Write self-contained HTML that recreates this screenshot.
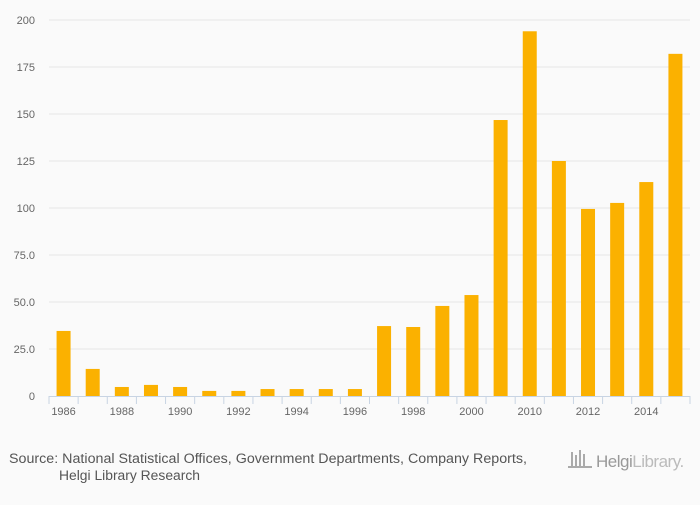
<!DOCTYPE html>
<html><head><meta charset="utf-8"><style>
html,body{margin:0;padding:0;background:#fafafa;}
svg text{font-family:"Liberation Sans",sans-serif;}
</style></head><body>
<svg width="700" height="500" xmlns="http://www.w3.org/2000/svg">
<rect width="700" height="500" fill="#fafafa"/>
<g id="grid"></g>
<g id="bars"></g>
<g id="xaxis"></g>
<text x="9" y="463" font-size="13.5" fill="#555" textLength="518" lengthAdjust="spacingAndGlyphs">Source: National Statistical Offices, Government Departments, Company Reports,</text>
<text x="59" y="480" font-size="13.5" fill="#555" textLength="141" lengthAdjust="spacingAndGlyphs">Helgi Library Research</text>
<g>
<g fill="#aaa"><rect x="571" y="452" width="2" height="14"/><rect x="575" y="455" width="2" height="11"/><rect x="579" y="450" width="2" height="16"/><rect x="583" y="454" width="2" height="12"/><rect x="568" y="466" width="24" height="2"/></g>
<text x="596" y="467" font-size="17" fill="#999" letter-spacing="-0.5">Helgi<tspan fill="#bbb">Library.</tspan></text>
</g>
</svg>
<script>
const categories=["1986","1987","1988","1989","1990","1991","1992","1993","1994","1995","1996","1997","1998","1999","2000","2009","2010","2011","2012","2013","2014","2015"];
const values=[34.6,14.4,4.8,5.9,4.8,2.7,2.7,3.7,3.7,3.7,3.7,37.2,36.7,47.9,53.7,146.8,194,125,99.5,102.7,113.8,182];
const yTicks=[0,25,50,75,100,125,150,175,200];
const yTickLabels=["0","25.0","50.0","75.0","100","125","150","175","200"];
const NS="http://www.w3.org/2000/svg";
const x0=49,x1=690,yBase=396,yTop=20,yMax=200;
const bw=(x1-x0)/categories.length;
const y=v=>yBase-(v/yMax)*(yBase-yTop);
const xc=i=>x0+bw*(i+0.5);
function mk(t,a,p){const e=document.createElementNS(NS,t);for(const k in a)e.setAttribute(k,a[k]);p.appendChild(e);return e;}
const g=document.getElementById('grid');
yTicks.forEach((t,i)=>{
 if(t>0){const l=mk('line',{x1:x0,x2:x1,y1:y(t),y2:y(t),stroke:'#e6e6e6','stroke-width':1},g);
 
 }
 const tx=mk('text',{x:35,y:y(t)+4,'font-size':11,fill:'#666','text-anchor':'end'},g);
 tx.textContent=yTickLabels[i];
 
 
});
const b=document.getElementById('bars');
values.forEach((v,i)=>{
 const r=mk('rect',{x:xc(i)-7,y:y(v),width:14,height:yBase-y(v),fill:'#fbb100'},b);
 
 
});
const xa=document.getElementById('xaxis');
const al=mk('line',{x1:x0,x2:x1,y1:yBase+0.5,y2:yBase+0.5,stroke:'#c8d4e3'},xa);


for(let i=0;i<=categories.length;i++){
 const t=mk('line',{x1:x0+bw*i,x2:x0+bw*i,y1:yBase,y2:yBase+8,stroke:'#c8d4e3'},xa);
 
 
}
categories.forEach((c,i)=>{
 if(i%2) return;
 const tx=mk('text',{x:xc(i),y:yBase+19,'font-size':11,fill:'#666','text-anchor':'middle'},xa);
 tx.textContent=c;
 
 
});
</script>
</body></html>
